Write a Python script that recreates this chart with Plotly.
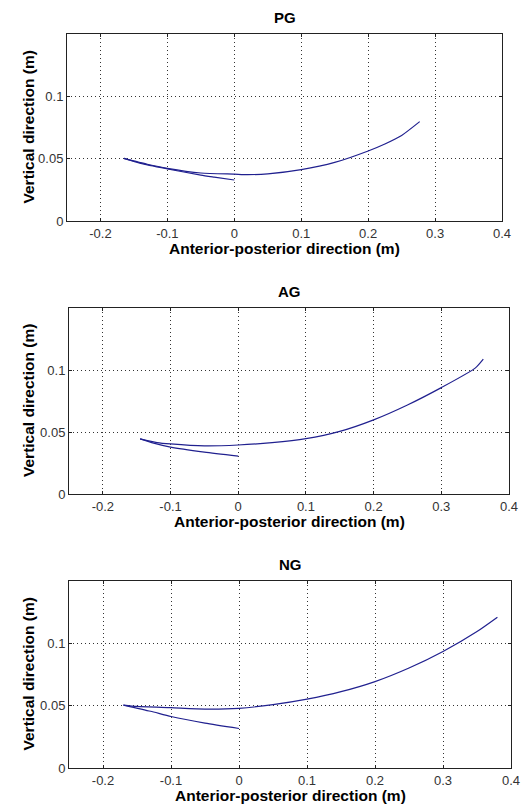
import plotly.graph_objects as go

W, H = 531, 810

titles = ["PG", "AG", "NG"]

# PG
pg_back_x = [0.0, -0.03, -0.05, -0.1, -0.14, -0.165]
pg_back_y = [0.0329, 0.0352, 0.0368, 0.0418, 0.0462, 0.0502]
pg_fwd_x = [-0.165, -0.13, -0.1, -0.05, 0.0, 0.02, 0.05, 0.1, 0.15, 0.2, 0.225, 0.25, 0.277]
pg_fwd_y = [0.0502, 0.0455, 0.0422, 0.0385, 0.0376, 0.0372, 0.0378, 0.0412, 0.047, 0.0562, 0.0618, 0.0686, 0.0797]

# AG
ag_back_x = [0.0, -0.05, -0.1, -0.125, -0.145]
ag_back_y = [0.0306, 0.0338, 0.0378, 0.041, 0.0444]
ag_fwd_x = [-0.145, -0.12, -0.1, -0.05, 0.0, 0.05, 0.1, 0.15, 0.2, 0.25, 0.3, 0.35, 0.362]
ag_fwd_y = [0.0444, 0.0415, 0.0404, 0.0388, 0.0395, 0.0414, 0.0446, 0.0505, 0.0598, 0.0718, 0.0858, 0.1015, 0.1088]

# NG
ng_back_x = [0.0, -0.05, -0.1, -0.13, -0.17]
ng_back_y = [0.0317, 0.036, 0.0413, 0.0455, 0.0505]
ng_fwd_x = [-0.17, -0.15, -0.1, -0.05, 0.0, 0.05, 0.1, 0.15, 0.2, 0.25, 0.3, 0.35, 0.38]
ng_fwd_y = [0.0505, 0.0494, 0.0484, 0.0473, 0.0479, 0.0508, 0.0552, 0.0612, 0.0693, 0.0802, 0.0935, 0.1095, 0.121]

series = [
    (pg_back_x, pg_back_y, pg_fwd_x, pg_fwd_y),
    (ag_back_x, ag_back_y, ag_fwd_x, ag_fwd_y),
    (ng_back_x, ng_back_y, ng_fwd_x, ng_fwd_y),
]

x_ticks = [-0.2, -0.1, 0, 0.1, 0.2, 0.3, 0.4]
x_ticklabels = ["-0.2", "-0.1", "0", "0.1", "0.2", "0.3", "0.4"]
y_ticks = [0, 0.05, 0.1]
y_ticklabels = ["0", "0.05", "0.1"]

x_title = "Anterior-posterior direction (m)"
y_title = "Vertical direction (m)"

# panel boxes in page pixels: left, right, top, bottom
boxes = [(67, 502, 34, 221), (69, 509, 308, 494), (69, 511, 581, 768)]

LINE_COLOR = "#20208f"
FONT = "Liberation Sans, Arial, sans-serif"


def px(x):
    return x / W


def py(y):
    return 1 - y / H


fig = go.Figure()
annotations = []
layout = {}

for i, (bx, by, fx, fy) in enumerate(series):
    n = "" if i == 0 else str(i + 1)
    for xs, ys in ((bx, by), (fx, fy)):
        fig.add_trace(go.Scatter(
            x=xs, y=ys, mode="lines",
            line=dict(color=LINE_COLOR, width=1.2, shape="spline", smoothing=0.6),
            xaxis="x" + n, yaxis="y" + n, showlegend=False, hoverinfo="skip"))
    l, r, t, b = boxes[i]
    axis_common = dict(
        showline=True, linecolor="#222", linewidth=1, mirror="ticks",
        ticks="inside", ticklen=3, tickcolor="#222",
        showgrid=True, gridcolor="#333", griddash="1px,3px", gridwidth=1,
        zeroline=False, automargin=False,
        tickfont=dict(family=FONT, size=13, color="#333"),
    )
    layout["xaxis" + n] = dict(
        axis_common, domain=[px(l), px(r)], range=[-0.25, 0.4],
        tickvals=x_ticks, ticktext=x_ticklabels, anchor="y" + n)
    layout["yaxis" + n] = dict(
        axis_common, domain=[py(b), py(t)], range=[0, 0.15],
        tickvals=y_ticks, ticktext=y_ticklabels, anchor="x" + n)
    cx = (l + r) / 2
    annotations.append(dict(
        text="<b>%s</b>" % titles[i], x=px(cx), y=py(t - 17),
        xref="paper", yref="paper", showarrow=False,
        font=dict(family=FONT, size=15, color="black"), yanchor="middle"))
    annotations.append(dict(
        text="<b>%s</b>" % x_title, x=px(cx), y=py(b + 27),
        xref="paper", yref="paper", showarrow=False,
        font=dict(family=FONT, size=15.5, color="black"), yanchor="middle"))
    annotations.append(dict(
        text="<b>%s</b>" % y_title, x=px(28), y=py((t + b) / 2),
        xref="paper", yref="paper", showarrow=False, textangle=-90,
        font=dict(family=FONT, size=15.5, color="black"),
        xanchor="center", yanchor="middle"))

fig.update_layout(
    width=W, height=H,
    margin=dict(l=0, r=0, t=0, b=0),
    paper_bgcolor="white", plot_bgcolor="white",
    annotations=annotations,
    **layout,
)

# remove the default 8px page margin so the figure fills the window exactly
fig.write_html(
    "out.html",
    config={"displayModeBar": False},
    post_script="document.body.style.margin='0';document.body.style.overflow='hidden';",
)
